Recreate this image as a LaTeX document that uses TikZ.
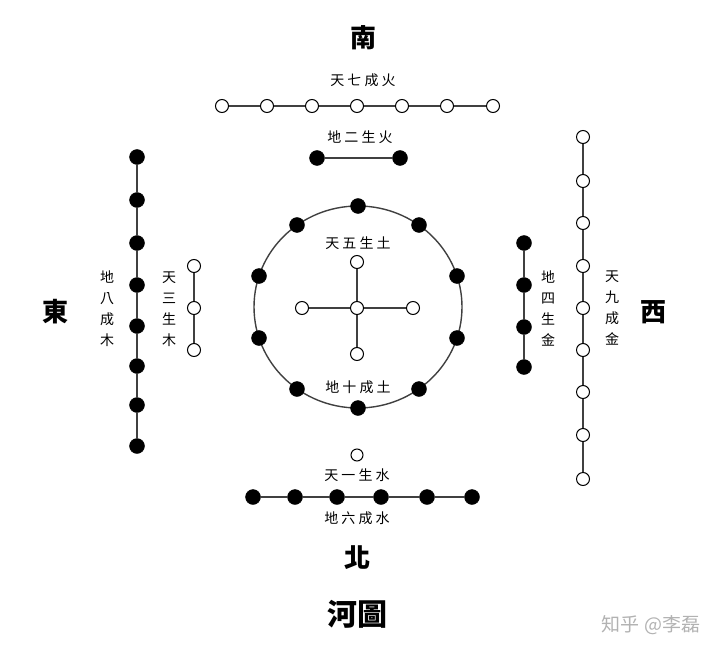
\documentclass[tikz,border=0pt]{standalone}
\usepackage{fontspec}
\newfontfamily\cjk{Noto Sans CJK TC}

\begin{document}
\begin{tikzpicture}[x=1pt, y=-1pt,
  yang/.style={circle, draw, fill=white, line width=1pt, minimum size=13pt, inner sep=0pt},
  yin/.style={circle, draw, fill=black, minimum size=15pt, inner sep=0pt},
  rod/.style={black!75, line width=1.2pt},
  lbl/.style={font=\cjk\fontsize{14}{21}\selectfont, align=center, inner sep=0pt},
  dir/.style={font=\cjk\bfseries\fontsize{26}{26}\selectfont, inner sep=0pt}]
\useasboundingbox (0,0) rectangle (727,655);
% compass words
\node[dir] (nan) at (363,38) {南};
\node[dir] (bei) at (357,558) {北};
\node[dir] (dong) at (55,312) {東};
\node[dir] (xi) at (653,312) {西};
\node[dir, font=\cjk\bfseries\fontsize{30}{30}\selectfont] (title) at (357,614) {河圖};
% south: 7 and 2
\node[lbl] (l7) at (363,80) {天 七 成 火};
\node[yang] (s1) at (222,106) {};
\node[yang] (s2) at (267,106) {};
\node[yang] (s3) at (312,106) {};
\node[yang] (s4) at (357,106) {};
\node[yang] (s5) at (402,106) {};
\node[yang] (s6) at (447,106) {};
\node[yang] (s7) at (493,106) {};
\draw[rod] (s1) -- (s2) -- (s3) -- (s4) -- (s5) -- (s6) -- (s7);
\node[lbl] (l2) at (360,137) {地 二 生 火};
\node[yin] (s8) at (317,158) {};
\node[yin] (s9) at (400,158) {};
\draw[rod] (s8) -- (s9);
% east: 8 and 3
\node[yin] (e1) at (137,157) {};
\node[yin] (e2) at (137,200) {};
\node[yin] (e3) at (137,243) {};
\node[yin] (e4) at (137,285) {};
\node[yin] (e5) at (137,326) {};
\node[yin] (e6) at (137,366) {};
\node[yin] (e7) at (137,405) {};
\node[yin] (e8) at (137,446) {};
\draw[rod] (e1) -- (e2) -- (e3) -- (e4) -- (e5) -- (e6) -- (e7) -- (e8);
\node[lbl] (l8) at (107,309) {地\\八\\成\\木};
\node[lbl] (l3) at (169,309) {天\\三\\生\\木};
\node[yang] (e9) at (194,266) {};
\node[yang] (e10) at (194,308) {};
\node[yang] (e11) at (194,350) {};
\draw[rod] (e9) -- (e10) -- (e11);
% west: 4 and 9
\node[yin] (w1) at (524,243) {};
\node[yin] (w2) at (524,285) {};
\node[yin] (w3) at (524,327) {};
\node[yin] (w4) at (524,367) {};
\draw[rod] (w1) -- (w2) -- (w3) -- (w4);
\node[lbl] (l4) at (548,308) {地\\四\\生\\金};
\node[yang] (w5) at (583,137) {};
\node[yang] (w6) at (583,181) {};
\node[yang] (w7) at (583,223) {};
\node[yang] (w8) at (583,266) {};
\node[yang] (w9) at (583,308) {};
\node[yang] (w10) at (583,350) {};
\node[yang] (w11) at (583,392) {};
\node[yang] (w12) at (583,435) {};
\node[yang] (w13) at (583,479) {};
\draw[rod] (w5) -- (w6) -- (w7) -- (w8) -- (w9) -- (w10) -- (w11) -- (w12) -- (w13);
\node[lbl] (l9) at (612,308) {天\\九\\成\\金};
% centre: 5 and 10
\draw[rod, line width=1.4pt] (358,307) ellipse [x radius=104, y radius=101];
\node[yin] (m1) at (358,206) {};
\node[yin] (m2) at (297,225) {};
\node[yin] (m3) at (419,225) {};
\node[yin] (m4) at (259,276) {};
\node[yin] (m5) at (457,276) {};
\node[yin] (m6) at (259,338) {};
\node[yin] (m7) at (457,338) {};
\node[yin] (m8) at (297,389) {};
\node[yin] (m9) at (419,389) {};
\node[yin] (m10) at (358,408) {};
\node[lbl] (l5) at (358,243) {天 五 生 土};
\node[lbl] (l10) at (358,387) {地 十 成 土};
\node[yang] (c0) at (357,308) {};
\node[yang] (c1) at (357,262) {};
\node[yang] (c2) at (357,354) {};
\node[yang] (c3) at (302,308) {};
\node[yang] (c4) at (413,308) {};
\draw[rod] (c1) -- (c0) -- (c2);
\draw[rod] (c3) -- (c0) -- (c4);
% north: 1 and 6
\node[yang, minimum size=12pt] (n1) at (357,455) {};
\node[lbl] (l1) at (357,475) {天 一 生 水};
\node[yin] (n2) at (253,497) {};
\node[yin] (n3) at (295,497) {};
\node[yin] (n4) at (337,497) {};
\node[yin] (n5) at (381,497) {};
\node[yin] (n6) at (427,497) {};
\node[yin] (n7) at (472,497) {};
\draw[rod] (n2) -- (n3) -- (n4) -- (n5) -- (n6) -- (n7);
\node[lbl] (l6) at (357,518) {地 六 成 水};
% watermark
\node[font=\cjk\fontsize{19}{19}\selectfont, text=black!30, inner sep=0pt] (mark) at (651,625) {知乎 @李磊};
\end{tikzpicture}
\end{document}
